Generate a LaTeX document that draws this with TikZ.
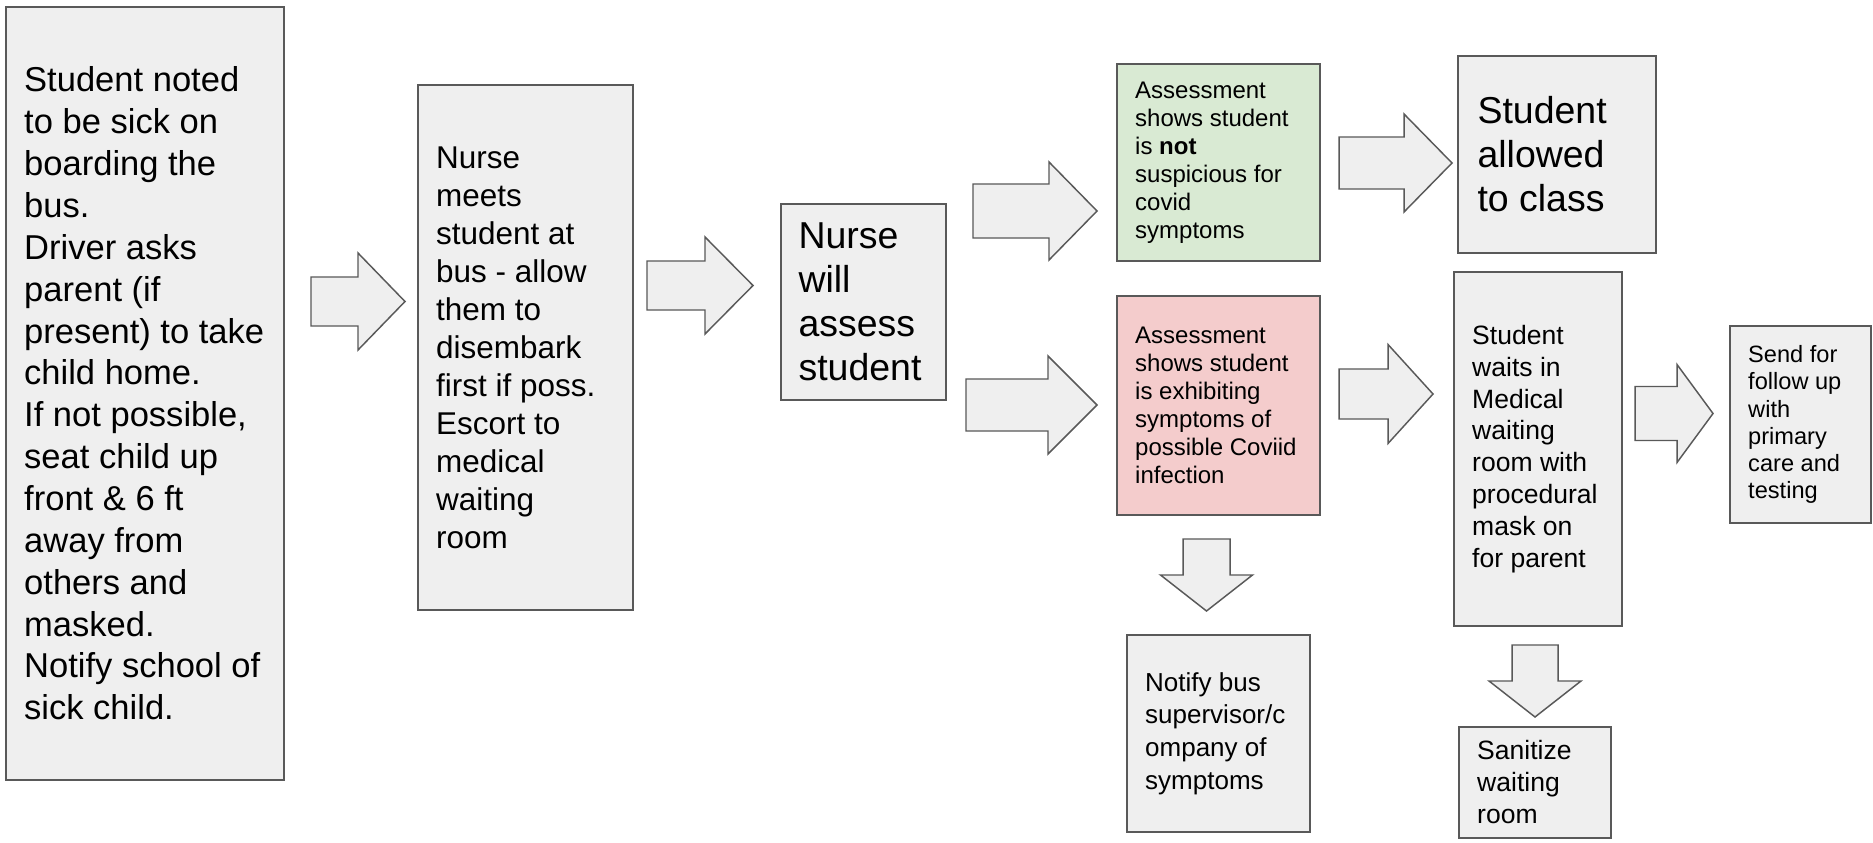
\documentclass[tikz,border=0pt]{standalone}
\usepackage{fontspec}
\setmainfont{Liberation Sans}
\usetikzlibrary{fit}
\definecolor{boxfill}{HTML}{EFEFEF}
\definecolor{boxline}{HTML}{595959}
\definecolor{greenfill}{HTML}{D9EAD3}
\definecolor{redfill}{HTML}{F4CCCC}
\tikzset{
  stepbox/.style={draw=boxline, fill=boxfill, line width=1.1pt, inner sep=0pt},
  boxtext/.style={anchor=west, inner sep=0pt, align=left, text=black},
  blockarrow/.style={draw=boxline, fill=boxfill, line width=1.1pt, line join=miter},
}
% right block arrow: xstart, xheadbase, xtip, ycenter, shafthalf, headhalf
\newcommand{\rblock}[6]{%
  \draw[blockarrow] (#1,#4-#5) -- (#2,#4-#5) -- (#2,#4-#6) -- (#3,#4) -- (#2,#4+#6) -- (#2,#4+#5) -- (#1,#4+#5) -- cycle;}
% down block arrow: ystart, yheadbase, ytip, xcenter, shafthalf, headhalf
\newcommand{\dblock}[6]{%
  \draw[blockarrow] (#4-#5,#1) -- (#4-#5,#2) -- (#4-#6,#2) -- (#4,#3) -- (#4+#6,#2) -- (#4+#5,#2) -- (#4+#5,#1) -- cycle;}
\begin{document}
\begin{tikzpicture}[x=0.75pt, y=-0.75pt]
\useasboundingbox (0,0) rectangle (1873,842);
\fill[white] (0,0) rectangle (1873,842);

% boxes
\node[stepbox, fit={(6,7) (284,780)}] (b1) {};
\node[stepbox, fit={(418,85) (633,610)}] (b2) {};
\node[stepbox, fit={(781,204) (946,400)}] (b3) {};
\node[stepbox, fill=greenfill, fit={(1117,64) (1320,261)}] (bg) {};
\node[stepbox, fit={(1458,56) (1656,253)}] (ba) {};
\node[stepbox, fill=redfill, fit={(1117,296) (1320,515)}] (br) {};
\node[stepbox, fit={(1454,272) (1622,626)}] (bw) {};
\node[stepbox, fit={(1730,326) (1871,523)}] (bs) {};
\node[stepbox, fit={(1127,635) (1310,832)}] (bn) {};
\node[stepbox, fit={(1459,727) (1611,838)}] (bz) {};

% texts
\node[boxtext, font=\fontsize{25.9pt}{31.4pt}\selectfont] (t1) at ([xshift=14pt]b1.west)
  {Student noted\\to be sick on\\boarding the\\bus.\\Driver asks\\parent (if\\present) to take\\child home.\\If not possible,\\seat child up\\front \& 6 ft\\away from\\others and\\masked.\\Notify school of\\sick child.};
\node[boxtext, font=\fontsize{23.6pt}{28.5pt}\selectfont] (t2) at ([xshift=14pt]b2.west)
  {Nurse\\meets\\student at\\bus - allow\\them to\\disembark\\first if poss.\\Escort to\\medical\\waiting\\room};
\node[boxtext, font=\fontsize{28.1pt}{33pt}\selectfont] (t3) at ([xshift=13.5pt]b3.west)
  {Nurse\\will\\assess\\student};
\node[boxtext, font=\fontsize{18pt}{21pt}\selectfont] (tg) at ([xshift=14pt]bg.west)
  {Assessment\\shows student\\is \textbf{not}\\suspicious for\\covid\\symptoms};
\node[boxtext, font=\fontsize{28.1pt}{33pt}\selectfont] (ta) at ([xshift=15pt]ba.west)
  {Student\\allowed\\to class};
\node[boxtext, font=\fontsize{18pt}{21pt}\selectfont] (tr) at ([xshift=14pt]br.west)
  {Assessment\\shows student\\is exhibiting\\symptoms of\\possible Coviid\\infection};
\node[boxtext, font=\fontsize{19.9pt}{23.9pt}\selectfont] (tw) at ([xshift=14pt]bw.west)
  {Student\\waits in\\Medical\\waiting\\room with\\procedural\\mask on\\for parent};
\node[boxtext, font=\fontsize{17.7pt}{20.4pt}\selectfont] (ts) at ([xshift=14pt]bs.west)
  {Send for\\follow up\\with\\primary\\care and\\testing};
\node[boxtext, font=\fontsize{19.5pt}{24.5pt}\selectfont] (tn) at ([xshift=14pt]bn.west)
  {Notify bus\\supervisor/c\\ompany of\\symptoms};
\node[boxtext, font=\fontsize{19.9pt}{24pt}\selectfont] (tz) at ([xshift=14pt]bz.west)
  {Sanitize\\waiting\\room};

% block arrows
\rblock{311}{358}{405}{301.5}{24.5}{48.5}
\rblock{647}{705}{753}{285.5}{24.5}{48.5}
\rblock{973}{1049}{1097}{211}{27}{49}
\rblock{1339}{1404}{1452}{163}{26}{49}
\rblock{966}{1048}{1097}{405}{26}{49}
\rblock{1339}{1388}{1433}{394}{25}{49.5}
\rblock{1635}{1677}{1713}{413.5}{27}{49}
\dblock{539}{575}{611}{1206.5}{23.5}{46}
\dblock{645}{681}{717}{1535}{23}{46}
\end{tikzpicture}
\end{document}
